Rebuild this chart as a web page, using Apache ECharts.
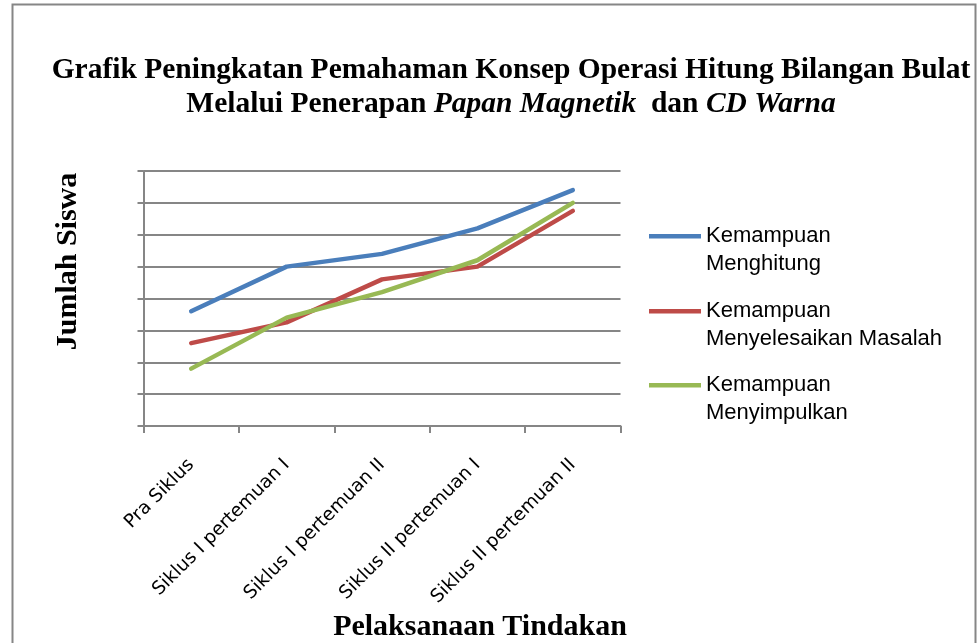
<!DOCTYPE html>
<html>
<head>
<meta charset="utf-8">
<script src="https://cdn.jsdelivr.net/npm/echarts@6/dist/echarts.min.js"></script>
<style>html,body{margin:0;padding:0;background:#fff}#c{width:978px;height:643px}</style>
</head>
<body>
<div id="c"></div>
<script>
const categories = ['Pra Siklus', 'Siklus I pertemuan I', 'Siklus I pertemuan II', 'Siklus II pertemuan I', 'Siklus II pertemuan II'];
const seriesNames = ['Kemampuan Menghitung', 'Kemampuan Menyelesaikan Masalah', 'Kemampuan Menyimpulkan'];
const menghitung = [3.6, 5.0, 5.4, 6.2, 7.4];
const menyelesaikan = [2.6, 3.25, 4.6, 5.0, 6.75];
const menyimpulkan = [1.8, 3.4, 4.2, 5.2, 7.0];
const colors = ['#4A7EBB', '#BE4B48', '#98B954'];
const values = [menghitung, menyelesaikan, menyimpulkan];

const chart = echarts.init(document.getElementById('c'), null, {renderer: 'canvas'});
const serif = '"Liberation Serif", "Times New Roman", serif';
const sans = '"Liberation Sans", Arial, sans-serif';
const grey = '#868686';

// legend icon: a thick line at the top, with an invisible zero-area sub-path that
// stretches the icon box so the line sits level with the first text line
const legendIconPath = 'path://M0,0L53,0L53,4.5L0,4.5Z M0,32.5L0.01,32.5';
const legendTops = [222, 297, 371];
const legends = seriesNames.map((n, i) => ({
  data: [{name: n, icon: legendIconPath, itemStyle: {color: colors[i], borderWidth: 0}}],
  orient: 'vertical',
  left: 649,
  top: legendTops[i],
  padding: 0,
  itemWidth: 52,
  itemHeight: 32.5,
  itemGap: 4,
  formatter: s => s.replace(' ', '\n'),
  itemStyle: {borderWidth: 0},
  textStyle: {fontFamily: sans, fontSize: 22, lineHeight: 28, color: '#000'}
}));

chart.setOption({
  animation: false,
  backgroundColor: '#fff',
  title: {
    left: 506,
    top: 48,
    textAlign: 'center',
    text: '{b|Grafik Peningkatan Pemahaman Konsep Operasi Hitung Bilangan Bulat}\n{b|Melalui Penerapan }{bi|Papan Magnetik}{b|  dan }{bi|CD Warna}',
    textStyle: {
      rich: {
        b: {fontFamily: serif, fontWeight: 'bold', fontSize: 29.5, lineHeight: 34, color: '#000'},
        bi: {fontFamily: serif, fontWeight: 'bold', fontStyle: 'italic', fontSize: 29.5, lineHeight: 34, color: '#000'}
      }
    }
  },
  graphic: [{
    type: 'rect',
    shape: {x: 12.5, y: 4.5, width: 963, height: 660},
    style: {fill: 'none', stroke: grey, lineWidth: 2},
    silent: true,
    z: -1
  }],
  legend: legends,
  grid: {left: 143.5, right: 357.5, top: 171, bottom: 216, containLabel: false},
  xAxis: {
    type: 'category',
    data: categories,
    boundaryGap: true,
    axisLine: {lineStyle: {color: grey, width: 2}},
    axisTick: {show: true, length: 7, lineStyle: {color: grey, width: 2}},
    axisLabel: {rotate: 45, interval: 0, margin: 36, fontFamily: '"DejaVu Sans", sans-serif', fontSize: 18.5, color: '#000'},
    name: 'Pelaksanaan Tindakan',
    nameLocation: 'middle',
    nameGap: 186,
    nameTextStyle: {fontFamily: serif, fontWeight: 'bold', fontSize: 30, color: '#000', padding: [0, 0, 0, 196]}
  },
  yAxis: {
    type: 'value',
    min: 0, max: 8, interval: 1,
    axisLine: {show: true, lineStyle: {color: grey, width: 2}},
    axisTick: {show: true, length: 6, lineStyle: {color: grey, width: 2}},
    axisLabel: {show: false},
    splitLine: {show: true, lineStyle: {color: grey, width: 2}},
    name: 'Jumlah Siswa',
    nameLocation: 'middle',
    nameRotate: 90,
    nameGap: 60,
    nameTextStyle: {fontFamily: serif, fontWeight: 'bold', fontSize: 30, color: '#000', padding: [0, 0, 0, 74]}
  },
  series: seriesNames.map((n, i) => ({
    name: n,
    type: 'line',
    data: values[i],
    symbol: 'none',
    color: colors[i],
    lineStyle: {width: 4.5, color: colors[i], cap: 'round', join: 'round'}
  }))
});
</script>
</body>
</html>
